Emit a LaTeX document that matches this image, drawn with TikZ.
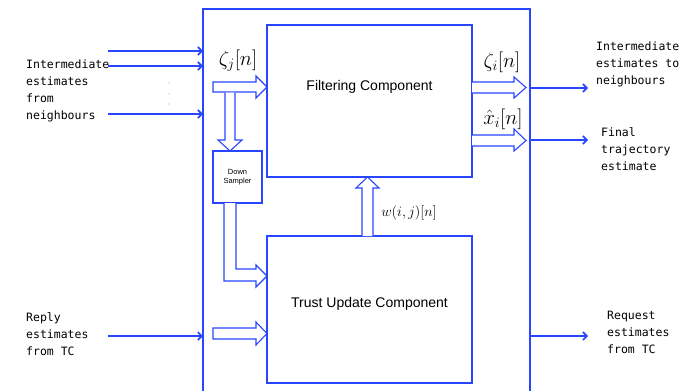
\documentclass[tikz,border=0pt]{standalone}
\usepackage{fontspec}
\setmainfont{Liberation Sans}
\newfontfamily\labelmono{DejaVu Sans Mono}
\usetikzlibrary{arrows.meta,calc}
\definecolor{lineblue}{RGB}{40,70,255}

\tikzset{
  frame/.style={draw=lineblue, line width=1.2pt},
  compbox/.style={draw=lineblue, line width=1.2pt, fill=white, inner sep=0pt},
  hollow/.style={draw=lineblue, line width=1.1pt, fill=white, line join=miter},
  signal/.style={draw=lineblue, line width=1.8pt, -{Straight Barb[length=4pt,width=8pt,line width=1.6pt]}},
  monotext/.style={font=\labelmono\fontsize{11.5}{17}\selectfont, align=left, anchor=north west, inner sep=0pt},
  mathlabel/.style={font=\fontsize{20}{22}\selectfont, inner sep=0pt},
  comptext/.style={font=\fontsize{14}{16}\selectfont}
}

\begin{document}
\begin{tikzpicture}[x=1pt,y=-1pt]
\useasboundingbox (0,0) rectangle (698,391);

% node frame, open towards the bottom
\coordinate (frameBL) at (203,391);
\coordinate (frameTL) at (203,9);
\coordinate (frameTR) at (530,9);
\coordinate (frameBR) at (530,391);
\draw[frame] (frameBL) -- (frameTL) -- (frameTR) -- (frameBR);

% components
\node[compbox, minimum width=205pt, minimum height=152pt,
      label={[comptext, yshift=14pt]center:Filtering Component}] (filt) at (369.5,101) {};
\node[compbox, minimum width=205pt, minimum height=147pt,
      label={[comptext, yshift=5.5pt]center:Trust Update Component}] (trust) at (369.5,309.5) {};
\node[compbox, minimum width=49pt, minimum height=52pt, align=center,
      font=\fontsize{7.5}{9.5}\selectfont] (down) at (237.5,177) {Down\\Sampler};

% incoming estimates
\coordinate (in1) at (108,51);
\coordinate (in2) at (108,66);
\coordinate (in3) at (108,114);
\coordinate (in4) at (108,336);
\draw[signal] (in1) -- (in1 -| frameTL);
\draw[signal] (in2) -- (in2 -| frameTL);
\draw[signal] (in3) -- (in3 -| frameTL);
\draw[signal] (in4) -- (in4 -| frameTL);
\foreach \yy in {83,94,104} \fill[gray!70] (169,\yy) circle (0.7pt);

% outgoing estimates
\coordinate (out1) at (588,88);
\coordinate (out2) at (588,140);
\coordinate (out3) at (588,336);
\draw[signal] (out1 -| frameTR) -- (out1);
\draw[signal] (out2 -| frameTR) -- (out2);
\draw[signal] (out3 -| frameTR) -- (out3);

% hollow data-flow arrows
\draw[hollow] (213,82) -- (256,82) -- (256,76) -- (267,87) -- (256,98) -- (256,92) -- (213,92) -- cycle;
\draw[hollow] (225,92.6) -- (225,140) -- (218,140) -- (230,151) -- (242,140) -- (235,140) -- (235,92.6);
\draw[hollow] (224,203) -- (224,281) -- (256,281) -- (256,287) -- (267,276) -- (256,265) -- (256,269) -- (236,269) -- (236,203);
\draw[hollow] (213,328) -- (256,328) -- (256,322) -- (267,333.5) -- (256,345) -- (256,339) -- (213,339) -- cycle;
\draw[hollow] (362,236) -- (362,188) -- (356,188) -- (367.5,177) -- (379,188) -- (373,188) -- (373,236);
\draw[hollow] (472,82) -- (514,82) -- (514,77) -- (526,87.5) -- (514,98) -- (514,93) -- (472,93);
\draw[hollow] (472,135) -- (514,135) -- (514,129) -- (526,140.5) -- (514,151) -- (514,146) -- (472,146);

% signal labels
\node[mathlabel] (zj) at (238,61) {$\zeta_j[n]$};
\node[mathlabel] (zi) at (502,62) {$\zeta_i[n]$};
\node[mathlabel] (xi) at (503,119.5) {$\hat{x}_i[n]$};
\node[font=\fontsize{15}{17}\selectfont, inner sep=0pt] (wij) at (409,213) {$w(i,j)[n]$};

% side texts
\node[monotext] (tin) at (26,60) {Intermediate\\estimates\\from\\neighbours};
\node[monotext] (trep) at (26,312) {Reply\\estimates\\from TC};
\node[monotext] (tout) at (596,42) {Intermediate\\estimates to\\neighbours};
\node[monotext] (tfin) at (601,127) {Final\\trajectory\\estimate};
\node[monotext] (treq) at (607,311) {Request\\estimates\\from TC};
\end{tikzpicture}
\end{document}
